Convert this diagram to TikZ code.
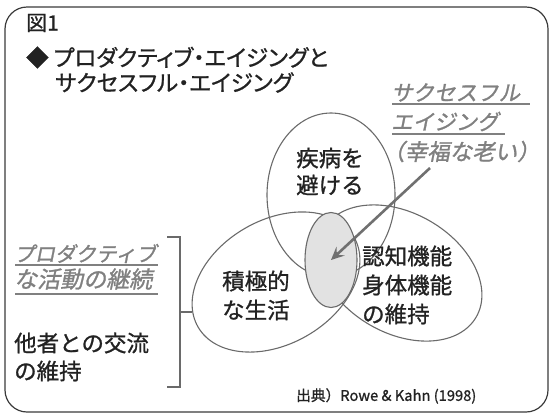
\documentclass[tikz,border=0pt]{standalone}
\usepackage{fontspec}
\setmainfont{Noto Sans CJK JP}[FakeBold=1]
\newfontfamily\jpttl{Noto Sans CJK JP}[FakeBold=1,RawFeature=+palt]
\newfontfamily\jpsl{Noto Sans CJK JP}[FakeSlant=0.2,FakeBold=1.2]
\usetikzlibrary{shapes.geometric,arrows.meta}
\definecolor{txt}{HTML}{222222}
\definecolor{gtxt}{HTML}{808080}
\definecolor{eline}{HTML}{6A6A6A}
\definecolor{gfill}{HTML}{E2E2E2}
\definecolor{framec}{HTML}{3A3A3A}
\definecolor{arrc}{HTML}{707070}
\begin{document}
\begin{tikzpicture}[x=1pt,y=-1pt,
  lbl/.style={inner sep=0pt, anchor=west, text=txt, font=\fontsize{22.5}{27}\selectfont},
  ttl/.style={inner sep=0pt, anchor=west, text=txt, font=\jpttl\fontsize{22.5}{26}\selectfont},
  glbl/.style={inner sep=0pt, anchor=west, text=gtxt, font=\jpsl\fontsize{21.5}{26}\selectfont},
  uline/.style={draw=gtxt, line width=1.6pt},
  venn/.style={shape=ellipse, draw=eline, line width=1.1pt, inner sep=0pt},
  brk/.style={draw=eline, line width=1.2pt},
  arr/.style={draw=arrc, line width=2.6pt, -{Stealth[length=13pt,width=12pt,inset=5pt]}}
]
\useasboundingbox (0,0) rectangle (553,416);
% frame
\draw[framec, line width=1.2pt, rounded corners=22pt] (5,7) rectangle (548,412);

% title
\node[ttl, font=\jpttl\fontsize{21}{24}\selectfont] (fig) at (26,23) {図1};
\node[ttl] (t1) at (26,57.5) {◆ プロダクティブ・エイジングと};
\node[ttl] (t2) at (55,82.5) {サクセスフル・エイジング};

% venn ellipses
\node[venn, minimum width=128pt, minimum height=164pt] (top) at (331,195) {};
\node[venn, minimum width=180pt, minimum height=124pt, rotate=30] (left) at (276,282) {};
\node[venn, minimum width=176pt, minimum height=120pt, rotate=-30] (right) at (400,273) {};
\node[shape=ellipse, draw=eline, fill=gfill, line width=1.1pt, inner sep=0pt,
      minimum width=52pt, minimum height=95pt] (core) at (331,260) {};

% venn texts
\node[lbl] (a1) at (296,158) {疾病を};
\node[lbl] (a2) at (296,185) {避ける};
\node[lbl] (b1) at (222,281) {積極的};
\node[lbl] (b2) at (222,310) {な生活};
\node[lbl] (c1) at (362,256) {認知機能};
\node[lbl] (c2) at (362,285) {身体機能};
\node[lbl] (c3) at (362,314) {の維持};

% successful aging label
\node[glbl] (g1) at (391,92.5) {サクセスフル};
\node[glbl] (g2) at (391,121.5) {エイジング};
\node[glbl, font=\jpsl\fontsize{22.5}{26}\selectfont] (g3) at (382,151.5) {（幸福な老い）};
\coordinate (u1a) at (392,104); \coordinate (u1b) at (530,104);
\coordinate (u2a) at (392,134); \coordinate (u2b) at (505,134);
\draw[uline] (u1a) -- (u1b);
\draw[uline] (u2a) -- (u2b);

% arrow
\coordinate (arrS) at (430,168);
\draw[arr] (arrS) -- (core.center);

% left texts
\node[glbl, font=\jpsl\fontsize{20.5}{24}\selectfont] (p1) at (14,253.5) {プロダクティブ};
\node[glbl, font=\jpsl\fontsize{23}{27}\selectfont] (p2) at (14,279) {な活動の継続};
\coordinate (u3a) at (15,265); \coordinate (u3b) at (158,265);
\coordinate (u4a) at (15,294); \coordinate (u4b) at (158,294);
\draw[uline] (u3a) -- (u3b);
\draw[uline] (u4a) -- (u4b);
\node[lbl] (o1) at (14,343) {他者との交流};
\node[lbl] (o2) at (14,371) {の維持};

% bracket
\coordinate (bt1) at (167,237); \coordinate (bt2) at (180,237);
\coordinate (bb1) at (167,387); \coordinate (bb2) at (180,387);
\coordinate (bm1) at (180,312); \coordinate (bm2) at (192,312);
\draw[brk] (bt1) -- (bt2) -- (bb2) -- (bb1);
\draw[brk] (bm1) -- (bm2);

% source
\node[inner sep=0pt, anchor=west, text=txt, font=\fontsize{14.7}{17}\selectfont] (src) at (296,396) {出典）Rowe \& Kahn (1998)};
\end{tikzpicture}
\end{document}
